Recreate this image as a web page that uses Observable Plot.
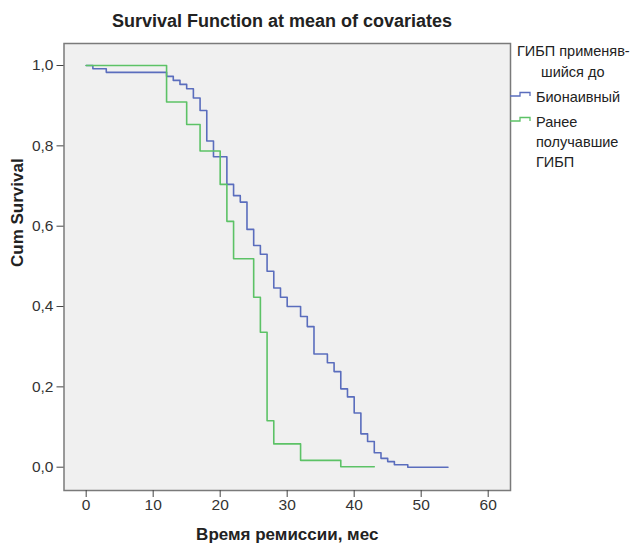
<!DOCTYPE html>
<html>
<head>
<meta charset="utf-8">
<script src="https://cdn.jsdelivr.net/npm/d3@7"></script>
<script src="https://cdn.jsdelivr.net/npm/@observablehq/plot@0.6"></script>
<style>
  body { margin: 0; background: #ffffff; font-family: "Liberation Sans", Arial, sans-serif; }
  #title { width: 564px; height: 30px; box-sizing: border-box; padding-top: 12px; font-size: 18px; line-height: 18px; font-weight: bold; text-align: center; color: #222; white-space: nowrap; }
</style>
</head>
<body>
<div id="title">Survival Function at mean of covariates</div>
<div id="chart"></div>
<script>
// ---- data ----
const groups = ["Бионаивный", "Ранее получавшие ГИБП"];
const colors = ["#5a6dbd", "#5cc266"];

const bioTime = [0, 1, 3, 12, 13, 14, 15, 16, 17, 18, 19, 21, 22, 23, 24, 25, 26, 27, 28, 29, 30, 32, 33, 34, 36, 37, 38, 39, 40, 41, 42, 43, 44, 45, 46, 48, 54];
const bioSurv = [1.0, 0.992, 0.983, 0.973, 0.963, 0.953, 0.942, 0.919, 0.888, 0.812, 0.773, 0.704, 0.676, 0.660, 0.592, 0.552, 0.530, 0.488, 0.446, 0.423, 0.400, 0.375, 0.350, 0.282, 0.260, 0.238, 0.195, 0.175, 0.135, 0.083, 0.064, 0.036, 0.022, 0.014, 0.006, 0.0, 0.0];

const prevTime = [0, 12, 15, 17, 20, 21, 22, 25, 26, 27, 28, 32, 38, 43];
const prevSurv = [1.0, 0.909, 0.853, 0.787, 0.704, 0.612, 0.519, 0.423, 0.336, 0.1155, 0.058, 0.017, 0.001, 0.001];

const xTicks = [0, 10, 20, 30, 40, 50, 60];
const yTicks = [0, 0.2, 0.4, 0.6, 0.8, 1.0];
const xLabel = "Время ремиссии, мес";
const yLabel = "Cum Survival";
const legendTitle = ["ГИБП применяв-", "шийся до"];
const legendLabels = [["Бионаивный"], ["Ранее", "получавшие", "ГИБП"]];

// ---- build rows ----
const rows = [];
bioTime.forEach((t, i) => rows.push({ t, s: bioSurv[i], group: groups[0] }));
prevTime.forEach((t, i) => rows.push({ t, s: prevSurv[i], group: groups[1] }));

const fmt = d => d.toFixed(1).replace(".", ",");

const chart = Plot.plot({
  width: 639,
  height: 515,
  marginLeft: 63.5,
  marginRight: 129,
  marginTop: 13,
  marginBottom: 55,
  style: { fontFamily: "'Liberation Sans', Arial, sans-serif", fontSize: "15.5px", color: "#333", background: "#ffffff", overflow: "visible" },
  x: { domain: [-3.31, 63.33] },
  y: { domain: [-0.058, 1.0548] },
  color: { domain: groups, range: colors },
  marks: [
    Plot.frame({ fill: "#f0f0f0", stroke: "#7a7a7a", strokeWidth: 1.5 }),
    Plot.axisX({ ticks: xTicks, tickSize: 7, tickPadding: 1.5, tickFormat: d => String(d), label: null, stroke: "#444" }),
    Plot.axisY({ ticks: yTicks, tickSize: 7, tickPadding: 3.5, tickFormat: fmt, label: null, stroke: "#444" }),
    Plot.line(rows, { x: "t", y: "s", z: "group", stroke: "group", curve: "step-after", strokeWidth: 1.6 }),
    Plot.text([xLabel], { frameAnchor: "bottom", text: d => d, dy: 49, fontWeight: "bold", fontSize: 17, fill: "#222" }),
    Plot.text([yLabel], { frameAnchor: "left", text: d => d, dx: -46, rotate: -90, fontWeight: "bold", fontSize: 17, fill: "#222" })
  ]
});
document.getElementById("chart").appendChild(chart);

// ---- legend (right margin) ----
const svg = d3.select(chart);
const lg = svg.append("g")
  .attr("font-family", "'Liberation Sans', Arial, sans-serif")
  .attr("font-size", 14.5)
  .attr("fill", "#222")
  .attr("text-anchor", "start");
lg.append("text").attr("x", 517).attr("y", 26).text(legendTitle[0]);
lg.append("text").attr("x", 541).attr("y", 46.5).text(legendTitle[1]);
const itemY = [66, 91];
legendLabels.forEach((lines, i) => {
  const y0 = itemY[i];
  lg.append("path")
    .attr("d", `M510,${y0}H520V${y0 - 3.5}H530V${y0}`)
    .attr("fill", "none").attr("stroke", colors[i]).attr("stroke-width", 1.3);
  lines.forEach((line, j) => {
    lg.append("text").attr("x", 536).attr("y", y0 + 6 + j * 20).text(line);
  });
});
</script>
</body>
</html>
